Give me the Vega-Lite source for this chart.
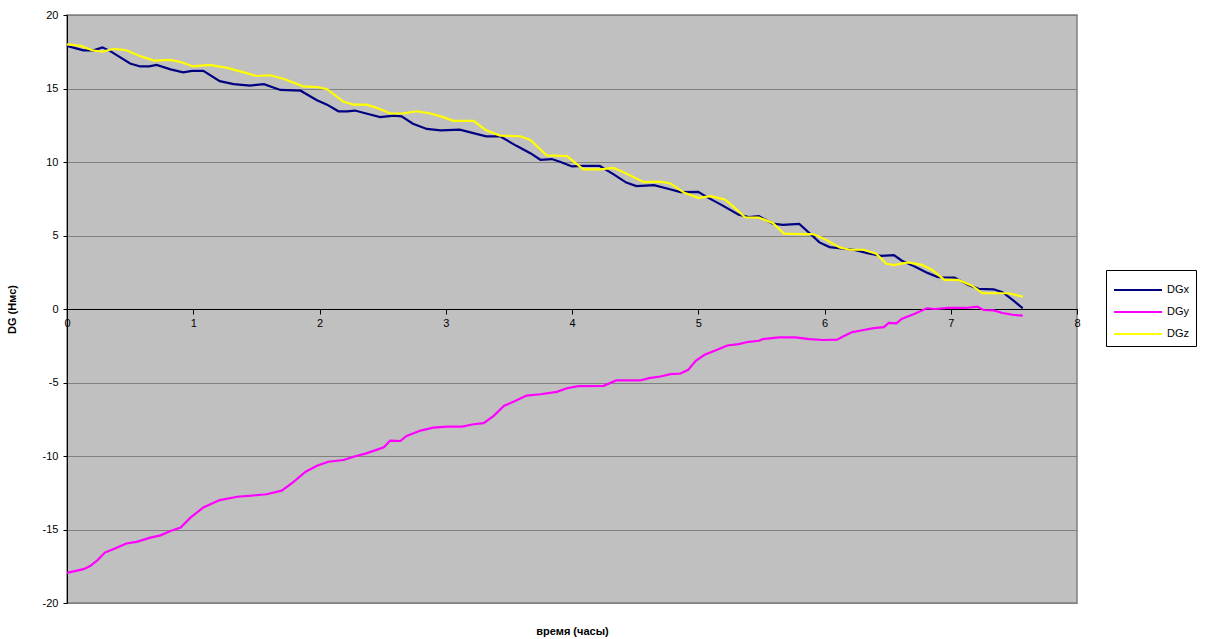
{
  "$schema": "https://vega.github.io/schema/vega-lite/v6.json",
  "width": 1010,
  "height": 588,
  "autosize": "none",
  "padding": {"left": 67, "top": 15, "right": 128, "bottom": 36},
  "background": "white",
  "config": {
    "font": "Liberation Sans",
    "view": {"fill": "#C0C0C0", "stroke": "#808080", "strokeWidth": 1.5}
  },
  "data": {
    "values": [
      {"t": 0, "v": 17.9, "s": "DGx"}, {"t": 0.13, "v": 17.6, "s": "DGx"}, {"t": 0.21, "v": 17.6, "s": "DGx"}, {"t": 0.28, "v": 17.8, "s": "DGx"}, {"t": 0.34, "v": 17.56, "s": "DGx"}, {"t": 0.5, "v": 16.7, "s": "DGx"}, {"t": 0.58, "v": 16.5, "s": "DGx"}, {"t": 0.65, "v": 16.5, "s": "DGx"}, {"t": 0.71, "v": 16.6, "s": "DGx"}, {"t": 0.82, "v": 16.3, "s": "DGx"}, {"t": 0.92, "v": 16.1, "s": "DGx"}, {"t": 0.99, "v": 16.2, "s": "DGx"}, {"t": 1.08, "v": 16.2, "s": "DGx"}, {"t": 1.21, "v": 15.5, "s": "DGx"}, {"t": 1.32, "v": 15.3, "s": "DGx"}, {"t": 1.45, "v": 15.2, "s": "DGx"}, {"t": 1.56, "v": 15.3, "s": "DGx"}, {"t": 1.69, "v": 14.9, "s": "DGx"}, {"t": 1.85, "v": 14.85, "s": "DGx"}, {"t": 1.98, "v": 14.2, "s": "DGx"}, {"t": 2.06, "v": 13.9, "s": "DGx"}, {"t": 2.15, "v": 13.45, "s": "DGx"}, {"t": 2.22, "v": 13.45, "s": "DGx"}, {"t": 2.28, "v": 13.5, "s": "DGx"}, {"t": 2.37, "v": 13.3, "s": "DGx"}, {"t": 2.48, "v": 13.05, "s": "DGx"}, {"t": 2.59, "v": 13.15, "s": "DGx"}, {"t": 2.65, "v": 13.1, "s": "DGx"}, {"t": 2.74, "v": 12.6, "s": "DGx"}, {"t": 2.85, "v": 12.25, "s": "DGx"}, {"t": 2.96, "v": 12.15, "s": "DGx"}, {"t": 3.11, "v": 12.2, "s": "DGx"}, {"t": 3.25, "v": 11.9, "s": "DGx"}, {"t": 3.32, "v": 11.75, "s": "DGx"}, {"t": 3.43, "v": 11.75, "s": "DGx"}, {"t": 3.56, "v": 11.1, "s": "DGx"}, {"t": 3.67, "v": 10.6, "s": "DGx"}, {"t": 3.75, "v": 10.15, "s": "DGx"}, {"t": 3.84, "v": 10.2, "s": "DGx"}, {"t": 3.91, "v": 10.0, "s": "DGx"}, {"t": 4.0, "v": 9.7, "s": "DGx"}, {"t": 4.09, "v": 9.73, "s": "DGx"}, {"t": 4.22, "v": 9.73, "s": "DGx"}, {"t": 4.33, "v": 9.16, "s": "DGx"}, {"t": 4.43, "v": 8.6, "s": "DGx"}, {"t": 4.51, "v": 8.36, "s": "DGx"}, {"t": 4.65, "v": 8.43, "s": "DGx"}, {"t": 4.76, "v": 8.18, "s": "DGx"}, {"t": 4.86, "v": 7.95, "s": "DGx"}, {"t": 5.0, "v": 7.97, "s": "DGx"}, {"t": 5.08, "v": 7.56, "s": "DGx"}, {"t": 5.18, "v": 7.1, "s": "DGx"}, {"t": 5.32, "v": 6.42, "s": "DGx"}, {"t": 5.4, "v": 6.26, "s": "DGx"}, {"t": 5.48, "v": 6.31, "s": "DGx"}, {"t": 5.59, "v": 5.81, "s": "DGx"}, {"t": 5.67, "v": 5.72, "s": "DGx"}, {"t": 5.8, "v": 5.79, "s": "DGx"}, {"t": 5.88, "v": 5.17, "s": "DGx"}, {"t": 5.96, "v": 4.53, "s": "DGx"}, {"t": 6.04, "v": 4.21, "s": "DGx"}, {"t": 6.15, "v": 4.1, "s": "DGx"}, {"t": 6.23, "v": 4.03, "s": "DGx"}, {"t": 6.34, "v": 3.8, "s": "DGx"}, {"t": 6.45, "v": 3.62, "s": "DGx"}, {"t": 6.55, "v": 3.67, "s": "DGx"}, {"t": 6.61, "v": 3.3, "s": "DGx"}, {"t": 6.71, "v": 2.9, "s": "DGx"}, {"t": 6.82, "v": 2.44, "s": "DGx"}, {"t": 6.9, "v": 2.16, "s": "DGx"}, {"t": 7.03, "v": 2.14, "s": "DGx"}, {"t": 7.14, "v": 1.64, "s": "DGx"}, {"t": 7.22, "v": 1.37, "s": "DGx"}, {"t": 7.34, "v": 1.34, "s": "DGx"}, {"t": 7.41, "v": 1.14, "s": "DGx"}, {"t": 7.49, "v": 0.62, "s": "DGx"}, {"t": 7.57, "v": 0.05, "s": "DGx"},

      {"t": 0, "v": -17.95, "s": "DGy"}, {"t": 0.13, "v": -17.7, "s": "DGy"}, {"t": 0.18, "v": -17.5, "s": "DGy"}, {"t": 0.24, "v": -17.1, "s": "DGy"}, {"t": 0.3, "v": -16.57, "s": "DGy"}, {"t": 0.38, "v": -16.3, "s": "DGy"}, {"t": 0.47, "v": -15.95, "s": "DGy"}, {"t": 0.55, "v": -15.84, "s": "DGy"}, {"t": 0.66, "v": -15.55, "s": "DGy"}, {"t": 0.74, "v": -15.4, "s": "DGy"}, {"t": 0.82, "v": -15.1, "s": "DGy"}, {"t": 0.9, "v": -14.86, "s": "DGy"}, {"t": 0.98, "v": -14.18, "s": "DGy"}, {"t": 1.08, "v": -13.5, "s": "DGy"}, {"t": 1.21, "v": -13.0, "s": "DGy"}, {"t": 1.35, "v": -12.77, "s": "DGy"}, {"t": 1.46, "v": -12.7, "s": "DGy"}, {"t": 1.58, "v": -12.6, "s": "DGy"}, {"t": 1.7, "v": -12.36, "s": "DGy"}, {"t": 1.79, "v": -11.8, "s": "DGy"}, {"t": 1.89, "v": -11.07, "s": "DGy"}, {"t": 1.98, "v": -10.66, "s": "DGy"}, {"t": 2.07, "v": -10.39, "s": "DGy"}, {"t": 2.19, "v": -10.27, "s": "DGy"}, {"t": 2.27, "v": -10.05, "s": "DGy"}, {"t": 2.37, "v": -9.82, "s": "DGy"}, {"t": 2.51, "v": -9.41, "s": "DGy"}, {"t": 2.56, "v": -8.95, "s": "DGy"}, {"t": 2.64, "v": -8.98, "s": "DGy"}, {"t": 2.69, "v": -8.64, "s": "DGy"}, {"t": 2.8, "v": -8.27, "s": "DGy"}, {"t": 2.9, "v": -8.07, "s": "DGy"}, {"t": 3.01, "v": -8.0, "s": "DGy"}, {"t": 3.13, "v": -8.0, "s": "DGy"}, {"t": 3.22, "v": -7.84, "s": "DGy"}, {"t": 3.3, "v": -7.77, "s": "DGy"}, {"t": 3.38, "v": -7.27, "s": "DGy"}, {"t": 3.46, "v": -6.59, "s": "DGy"}, {"t": 3.54, "v": -6.3, "s": "DGy"}, {"t": 3.64, "v": -5.89, "s": "DGy"}, {"t": 3.75, "v": -5.8, "s": "DGy"}, {"t": 3.88, "v": -5.64, "s": "DGy"}, {"t": 3.96, "v": -5.39, "s": "DGy"}, {"t": 4.05, "v": -5.25, "s": "DGy"}, {"t": 4.25, "v": -5.23, "s": "DGy"}, {"t": 4.35, "v": -4.86, "s": "DGy"}, {"t": 4.54, "v": -4.86, "s": "DGy"}, {"t": 4.61, "v": -4.7, "s": "DGy"}, {"t": 4.7, "v": -4.59, "s": "DGy"}, {"t": 4.78, "v": -4.43, "s": "DGy"}, {"t": 4.86, "v": -4.39, "s": "DGy"}, {"t": 4.92, "v": -4.14, "s": "DGy"}, {"t": 4.98, "v": -3.52, "s": "DGy"}, {"t": 5.05, "v": -3.11, "s": "DGy"}, {"t": 5.13, "v": -2.84, "s": "DGy"}, {"t": 5.23, "v": -2.48, "s": "DGy"}, {"t": 5.32, "v": -2.39, "s": "DGy"}, {"t": 5.4, "v": -2.23, "s": "DGy"}, {"t": 5.48, "v": -2.16, "s": "DGy"}, {"t": 5.51, "v": -2.05, "s": "DGy"}, {"t": 5.64, "v": -1.93, "s": "DGy"}, {"t": 5.77, "v": -1.93, "s": "DGy"}, {"t": 5.88, "v": -2.05, "s": "DGy"}, {"t": 5.99, "v": -2.11, "s": "DGy"}, {"t": 6.1, "v": -2.09, "s": "DGy"}, {"t": 6.15, "v": -1.86, "s": "DGy"}, {"t": 6.22, "v": -1.57, "s": "DGy"}, {"t": 6.28, "v": -1.48, "s": "DGy"}, {"t": 6.39, "v": -1.3, "s": "DGy"}, {"t": 6.47, "v": -1.23, "s": "DGy"}, {"t": 6.51, "v": -0.95, "s": "DGy"}, {"t": 6.57, "v": -0.98, "s": "DGy"}, {"t": 6.61, "v": -0.68, "s": "DGy"}, {"t": 6.71, "v": -0.34, "s": "DGy"}, {"t": 6.81, "v": 0.05, "s": "DGy"}, {"t": 6.87, "v": 0.0, "s": "DGy"}, {"t": 6.98, "v": 0.07, "s": "DGy"}, {"t": 7.12, "v": 0.07, "s": "DGy"}, {"t": 7.21, "v": 0.16, "s": "DGy"}, {"t": 7.26, "v": -0.07, "s": "DGy"}, {"t": 7.34, "v": -0.09, "s": "DGy"}, {"t": 7.41, "v": -0.27, "s": "DGy"}, {"t": 7.49, "v": -0.39, "s": "DGy"}, {"t": 7.57, "v": -0.45, "s": "DGy"},

      {"t": 0, "v": 18.0, "s": "DGz"}, {"t": 0.11, "v": 17.9, "s": "DGz"}, {"t": 0.2, "v": 17.6, "s": "DGz"}, {"t": 0.28, "v": 17.5, "s": "DGz"}, {"t": 0.37, "v": 17.7, "s": "DGz"}, {"t": 0.47, "v": 17.6, "s": "DGz"}, {"t": 0.58, "v": 17.2, "s": "DGz"}, {"t": 0.69, "v": 16.9, "s": "DGz"}, {"t": 0.82, "v": 16.95, "s": "DGz"}, {"t": 0.9, "v": 16.8, "s": "DGz"}, {"t": 1.0, "v": 16.5, "s": "DGz"}, {"t": 1.13, "v": 16.6, "s": "DGz"}, {"t": 1.27, "v": 16.4, "s": "DGz"}, {"t": 1.4, "v": 16.1, "s": "DGz"}, {"t": 1.5, "v": 15.85, "s": "DGz"}, {"t": 1.61, "v": 15.9, "s": "DGz"}, {"t": 1.72, "v": 15.65, "s": "DGz"}, {"t": 1.87, "v": 15.15, "s": "DGz"}, {"t": 1.98, "v": 15.1, "s": "DGz"}, {"t": 2.06, "v": 14.95, "s": "DGz"}, {"t": 2.19, "v": 14.1, "s": "DGz"}, {"t": 2.27, "v": 13.9, "s": "DGz"}, {"t": 2.37, "v": 13.9, "s": "DGz"}, {"t": 2.45, "v": 13.7, "s": "DGz"}, {"t": 2.56, "v": 13.3, "s": "DGz"}, {"t": 2.66, "v": 13.3, "s": "DGz"}, {"t": 2.77, "v": 13.45, "s": "DGz"}, {"t": 2.88, "v": 13.3, "s": "DGz"}, {"t": 2.98, "v": 13.05, "s": "DGz"}, {"t": 3.06, "v": 12.8, "s": "DGz"}, {"t": 3.22, "v": 12.8, "s": "DGz"}, {"t": 3.32, "v": 12.15, "s": "DGz"}, {"t": 3.43, "v": 11.8, "s": "DGz"}, {"t": 3.59, "v": 11.75, "s": "DGz"}, {"t": 3.67, "v": 11.5, "s": "DGz"}, {"t": 3.8, "v": 10.45, "s": "DGz"}, {"t": 3.96, "v": 10.4, "s": "DGz"}, {"t": 4.09, "v": 9.5, "s": "DGz"}, {"t": 4.22, "v": 9.5, "s": "DGz"}, {"t": 4.33, "v": 9.6, "s": "DGz"}, {"t": 4.43, "v": 9.22, "s": "DGz"}, {"t": 4.57, "v": 8.63, "s": "DGz"}, {"t": 4.7, "v": 8.66, "s": "DGz"}, {"t": 4.78, "v": 8.54, "s": "DGz"}, {"t": 4.89, "v": 7.9, "s": "DGz"}, {"t": 5.0, "v": 7.56, "s": "DGz"}, {"t": 5.1, "v": 7.68, "s": "DGz"}, {"t": 5.21, "v": 7.45, "s": "DGz"}, {"t": 5.29, "v": 6.88, "s": "DGz"}, {"t": 5.37, "v": 6.24, "s": "DGz"}, {"t": 5.48, "v": 6.22, "s": "DGz"}, {"t": 5.59, "v": 5.85, "s": "DGz"}, {"t": 5.68, "v": 5.13, "s": "DGz"}, {"t": 5.8, "v": 5.1, "s": "DGz"}, {"t": 5.91, "v": 5.1, "s": "DGz"}, {"t": 6.01, "v": 4.72, "s": "DGz"}, {"t": 6.12, "v": 4.19, "s": "DGz"}, {"t": 6.2, "v": 4.03, "s": "DGz"}, {"t": 6.31, "v": 4.03, "s": "DGz"}, {"t": 6.41, "v": 3.76, "s": "DGz"}, {"t": 6.49, "v": 3.08, "s": "DGz"}, {"t": 6.55, "v": 2.98, "s": "DGz"}, {"t": 6.66, "v": 3.17, "s": "DGz"}, {"t": 6.77, "v": 3.0, "s": "DGz"}, {"t": 6.85, "v": 2.67, "s": "DGz"}, {"t": 6.95, "v": 1.98, "s": "DGz"}, {"t": 7.06, "v": 1.98, "s": "DGz"}, {"t": 7.17, "v": 1.59, "s": "DGz"}, {"t": 7.25, "v": 1.07, "s": "DGz"}, {"t": 7.38, "v": 1.07, "s": "DGz"}, {"t": 7.46, "v": 1.07, "s": "DGz"}, {"t": 7.57, "v": 0.84, "s": "DGz"}
    ]
  },
  "mark": {"type": "line", "strokeWidth": 2.2, "interpolate": "linear"},
  "encoding": {
    "x": {
      "field": "t",
      "type": "quantitative",
      "scale": {"domain": [0, 8], "nice": false, "zero": false},
      "axis": {
        "title": "время (часы)",
        "offset": -294,
        "values": [0, 1, 2, 3, 4, 5, 6, 7, 8],
        "grid": false,
        "domainColor": "black",
        "domainWidth": 1,
        "tickColor": "black",
        "tickSize": 5,
        "labelFontSize": 11,
        "labelColor": "black",
        "labelPadding": 3,
        "labelFlush": false,
        "titleFontSize": 11,
        "titleFontWeight": "bold",
        "titleColor": "black",
        "titleX": 505,
        "titleY": 325,
        "titleBaseline": "alphabetic"
      }
    },
    "y": {
      "field": "v",
      "type": "quantitative",
      "scale": {"domain": [-20, 20], "nice": false},
      "axis": {
        "title": "DG (Нмс)",
        "values": [-20, -15, -10, -5, 0, 5, 10, 15, 20],
        "labelExpr": "'' + datum.value",
        "grid": true,
        "gridColor": "#808080",
        "gridWidth": 1,
        "domainColor": "black",
        "domainWidth": 1,
        "tickColor": "black",
        "tickSize": 4,
        "labelFontSize": 11,
        "labelColor": "black",
        "labelPadding": 5,
        "labelFlush": false,
        "titleFontSize": 11,
        "titleFontWeight": "bold",
        "titleColor": "black",
        "titleX": -50,
        "titleY": 294
      }
    },
    "color": {
      "field": "s",
      "type": "nominal",
      "scale": {"domain": ["DGx", "DGy", "DGz"], "range": ["#000080", "#FF00FF", "#FFFF00"]},
      "legend": {
        "title": null,
        "orient": "none",
        "legendX": 1039,
        "legendY": 255,
        "strokeColor": "black",
        "fillColor": "white",
        "padding": 7,
        "symbolType": "M-1,0H3",
        "symbolSize": 576,
        "symbolStrokeWidth": 2,
        "labelFontSize": 11,
        "labelColor": "black",
        "labelOffset": 28,
        "rowPadding": 4
      }
    }
  }
}
